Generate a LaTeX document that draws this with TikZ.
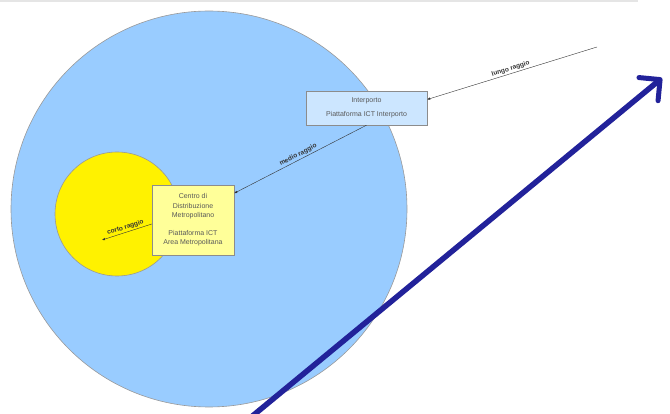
\documentclass[tikz,border=0pt]{standalone}
\usepackage{fontspec}
\setmainfont{Liberation Sans}
\usepackage{xcolor}
\usepackage{tikz}
\usetikzlibrary{shapes,arrows.meta}
\definecolor{skyblue}{HTML}{99CCFF}
\definecolor{paleblue}{HTML}{CCE6FF}
\definecolor{paleyellow}{HTML}{FFFF99}
\definecolor{navy}{HTML}{22229A}
\tikzstyle{area} = [circle, draw=gray!80, line width=0.6pt]
\tikzstyle{hub} = [rectangle, draw=gray!90, text=black!65, align=center, inner sep=2pt, font=\fontsize{7}{9.5}\selectfont]
\tikzstyle{line} = [draw, black!80, line width=0.4pt, -{Latex[length=3pt,width=2.5pt]}]
\tikzstyle{tag} = [sloped, above, inner sep=1.5pt, font=\bfseries\fontsize{6.5}{8}\selectfont]

\begin{document}
\begin{tikzpicture}[x=1pt, y=-1pt]
        \useasboundingbox (0,0) rectangle (670,414);
        \draw [gray!20, line width=1.5pt] (0,1) -- (638,1);
        % Place nodes
        \node [area, fill=skyblue, minimum size=396pt] (region) at (209,209) {};
        \node [area, fill=yellow, minimum size=124pt] (city) at (117,214) {};
        \node [hub, fill=paleblue, minimum width=121pt, minimum height=34pt] (inter) at (366.5,108) {Interporto\\[5pt]Piattaforma ICT Interporto};
        \node [hub, fill=paleyellow, minimum width=82pt, minimum height=70pt] (cdm) at (193,220) {Centro di\\Distribuzione\\Metropolitano\\[8pt]Piattaforma ICT\\Area Metropolitana};
        \coordinate (far) at (597,47);
        \coordinate (near) at (102,240);
        \coordinate (tail) at (250,418);
        \coordinate (head) at (662,78);
        % Draw edges
        \path [line] (far) -- node [tag] {lungo raggio} (inter.8);
        \path [line] (inter.south) -- node [tag] {medio raggio} (cdm.33);
        \path [line] (cdm.west |- 0,224) -- node [tag] {corto raggio} (near);
        \draw [navy, line width=5.5pt, -{Straight Barb[length=15pt,width=30pt,round,line width=5pt]}] (tail) -- (head);
    \end{tikzpicture}
\end{document}
